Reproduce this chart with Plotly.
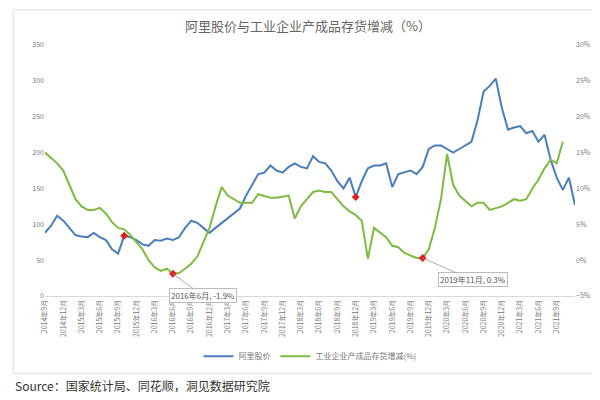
import plotly.graph_objects as go
import pandas as pd

months = [f"{d.year}年{d.month}月" for d in pd.date_range("2014-09-01", "2021-12-01", freq="MS")]
ali = [88,98,112,105,95,85,83,82,88,82,78,65,59,84,82,78,72,70,78,77,80,78,82,95,105,102,95,88,
       95,102,108,115,122,140,155,170,172,182,175,172,180,185,180,178,195,187,185,175,160,150,165,138,
       160,178,182,182,185,152,170,172,175,170,180,205,210,210,205,200,205,210,215,245,285,293,303,262,
       232,235,237,227,230,215,225,190,165,148,165,127]
inv = [15,14.3,13.5,12.5,10.5,8.5,7.5,7,7,7.3,6.5,5.3,4.5,4.3,3.5,2.5,1.5,0,-1,-1.5,-1.2,-1.9,-1.8,-1.2,-0.5,0.5,2.5,4.5,
       7.5,10.2,9,8.5,8,8,8,9.2,9,8.7,8.7,8.8,9,5.8,7.5,8.5,9.5,9.7,9.5,9.5,8.5,7.5,6.8,6.3,
       5.5,0.2,4.5,3.8,3.2,2,1.8,1,0.6,0.3,0.3,1.5,4.5,8.5,14.8,10.5,9,8.2,7.5,8,8,7,7.3,7.5,
       8,8.5,8.3,8.5,10,11.2,12.8,14,13.5,16.5]
inv = inv + [None]*(len(months)-len(inv))
ticks = months[::3][:29]

fig = go.Figure()
fig.add_trace(go.Scatter(x=months, y=ali, name="阿里股价", mode="lines", line=dict(color="#4a7ebb", width=2)))
fig.add_trace(go.Scatter(x=months, y=inv, name="工业企业产成品存货增减(%)", mode="lines", line=dict(color="#7fba42", width=2), yaxis="y2"))
fig.add_trace(go.Scatter(x=["2015年10月", "2018年12月"], y=[84, 138], mode="markers", marker=dict(color="#e02020", size=6, symbol="diamond"), showlegend=False))
fig.add_trace(go.Scatter(x=["2016年6月", "2019年11月"], y=[-1.9, 0.3], mode="markers", marker=dict(color="#e02020", size=6, symbol="diamond"), showlegend=False, yaxis="y2"))
for x, y, t, ax in [("2016年6月", -1.9, "2016年6月, -1.9%", 30), ("2019年11月", 0.3, "2019年11月, 0.3%", 50)]:
    fig.add_annotation(x=x, y=y, yref="y2", text=t, showarrow=True, arrowcolor="#999", arrowwidth=0.8, ax=ax, ay=22,
                       font=dict(size=8, color="#555"), bgcolor="white", bordercolor="#bbb", borderwidth=1)
fig.update_layout(
    width=600, height=400, margin=dict(l=37, r=33, t=37, b=112),
    paper_bgcolor="white", plot_bgcolor="white",
    font=dict(family="Noto Sans CJK SC", color="#666"),
    title=dict(text="阿里股价与工业企业产成品存货增减（%）", x=0.5, y=0.965, font=dict(size=13, color="#666")),
    xaxis=dict(type="category", tickvals=ticks, tickangle=-90, tickfont=dict(size=7, color="#777"), showgrid=False,
               showline=True, linecolor="#d9d9d9", ticks="", automargin=False),
    yaxis=dict(range=[0, 350], dtick=50, tickfont=dict(size=7, color="#777"), showgrid=False, zeroline=False, automargin=False),
    yaxis2=dict(range=[-5, 30], dtick=5, ticksuffix="%", overlaying="y", side="right", tickfont=dict(size=7, color="#777"),
                showgrid=False, zeroline=False, automargin=False),
    legend=dict(orientation="h", x=0.5, xanchor="center", y=-0.24, yanchor="middle", font=dict(size=8, color="#777")),
)
fig.add_annotation(text="Source：国家统计局、同花顺，洞见数据研究院", xref="paper", yref="paper", x=-0.06, xanchor="left",
                   y=-0.355, yanchor="middle", showarrow=False, font=dict(size=12, color="#333"))
fig.add_shape(type="rect", xref="paper", yref="paper", x0=-0.06, x1=1.055, y0=-0.31, y1=1.14, line=dict(color="#ddd", width=1))
fig.write_html("out.html")
